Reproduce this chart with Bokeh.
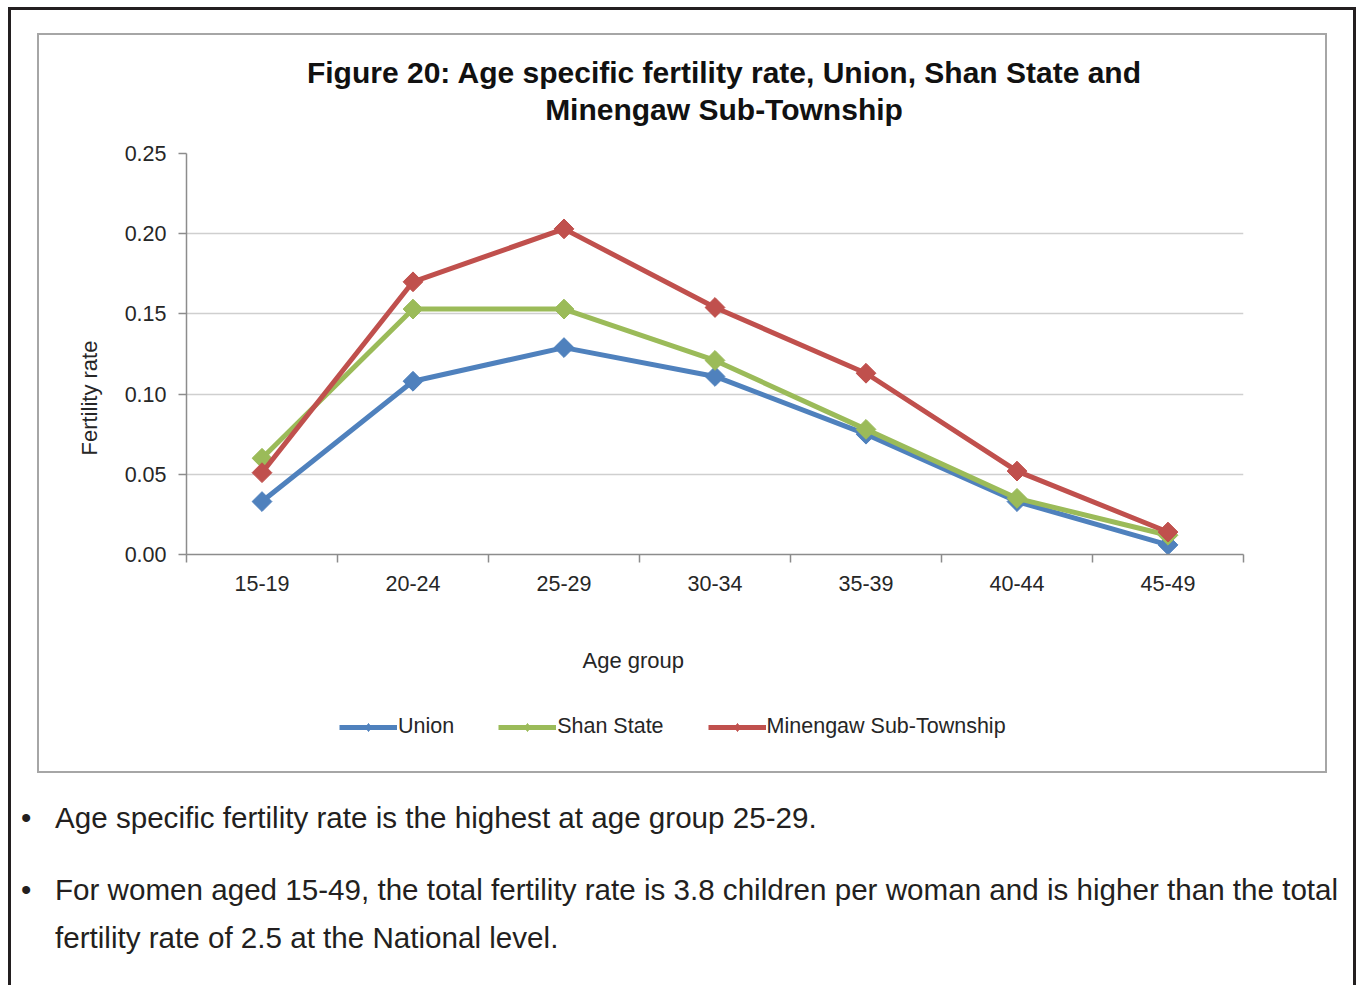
import numpy as np
from bokeh.plotting import figure
from bokeh.models import (FactorRange, Range1d, LinearAxis, CategoricalAxis, FixedTicker,
                          Title, Label, Legend, LegendItem, Div, PrintfTickFormatter)
from bokeh.layouts import column
from bokeh.embed import file_html
from bokeh.resources import INLINE

# ---------------- data ----------------
ages = ["15-19", "20-24", "25-29", "30-34", "35-39", "40-44", "45-49"]
union = [0.033, 0.108, 0.129, 0.111, 0.075, 0.033, 0.006]
shan = [0.060, 0.153, 0.153, 0.121, 0.078, 0.035, 0.012]
minengaw = [0.051, 0.170, 0.203, 0.154, 0.113, 0.052, 0.014]
series_names = ["Union", "Shan State", "Minengaw Sub-Township"]
y_ticks = [0.0, 0.05, 0.10, 0.15, 0.20, 0.25]

title_lines = ["Figure 20: Age specific fertility rate, Union, Shan State and",
               "Minengaw Sub-Township"]
y_title = "Fertility rate"
x_title = "Age group"
bullet1 = "Age specific fertility rate is the highest at age group 25-29."
bullet2a = "For women aged 15-49, the total fertility rate is 3.8 children per woman and is higher than the total"
bullet2b = "fertility rate of 2.5 at the National level."

# ---------------- style ----------------
FONT = "Liberation Sans"
TXT = "#262626"
AXIS = "#8c8c8c"
GRID = "#cfcfcf"
BOX = "2px solid #a6a6a6"
COLORS = ["#4f81bd", "#9bbb59", "#c0504d"]
FS = "21.5px"

# ---- chart title (top part of the grey chart box) ----
title_html = ("<div style=\"font-family:'Liberation Sans',Arial,sans-serif;font-weight:bold;"
              "font-size:30px;line-height:37px;color:#111111;text-align:center;white-space:nowrap;"
              "width:1286px;box-sizing:border-box;"
              f"padding:19px 0 0 84px;\">{title_lines[0]}<br>{title_lines[1]}</div>")
title_div = Div(text=title_html, width=1290, height=105, margin=0,
                styles={"border-top": BOX, "border-left": BOX, "border-right": BOX})

# ---- main plot ----
p = figure(width=1290, height=466, x_range=FactorRange(factors=ages), y_range=Range1d(0, 0.25),
           x_axis_location=None, output_backend="svg", toolbar_location=None,
           min_border_left=147, min_border_right=86, min_border_top=15, min_border_bottom=50)
p.outline_line_color = None
p.background_fill_color = "white"
p.border_fill_color = "white"

# tick-only axis at category boundaries (synthetic coordinates of the factor range)
tick_axis = LinearAxis(ticker=FixedTicker(ticks=list(range(len(ages) + 1))),
                       major_tick_out=8, major_tick_in=0, minor_tick_line_color=None,
                       major_label_text_font_size="0px", major_label_standoff=0,
                       axis_line_color=AXIS, axis_line_width=1.5,
                       major_tick_line_color=AXIS, major_tick_line_width=1.5)
p.add_layout(tick_axis, "below")
cat_axis = CategoricalAxis(axis_line_color=None, major_tick_line_color=None, major_tick_out=0,
                           major_tick_in=0, major_label_standoff=13, major_label_text_font=FONT,
                           major_label_text_font_size=FS, major_label_text_color=TXT)
p.add_layout(cat_axis, "below")

yax = p.yaxis[0]
yax.ticker = FixedTicker(ticks=y_ticks)
yax.formatter = PrintfTickFormatter(format="%.2f")
yax.major_tick_out = 8
yax.major_tick_in = 0
yax.minor_tick_line_color = None
yax.axis_line_color = AXIS
yax.axis_line_width = 1.5
yax.major_tick_line_color = AXIS
yax.major_tick_line_width = 1.5
yax.major_label_standoff = 12
yax.major_label_text_font = FONT
yax.major_label_text_font_size = FS
yax.major_label_text_color = TXT

p.add_layout(Title(text=y_title, align="left", offset=99, vertical_align="middle", standoff=38,
                   text_font=FONT, text_font_size="22px", text_font_style="normal",
                   text_color=TXT), "left")

p.xgrid.visible = False
p.ygrid.ticker = FixedTicker(ticks=y_ticks)
p.ygrid.grid_line_color = GRID
p.ygrid.grid_line_width = 1.5

for vals, col in zip([union, shan, minengaw], COLORS):
    p.line(ages, vals, line_width=5, color=col)
    p.scatter(ages, vals, marker="square", size=14, angle=np.pi / 4, color=col)

p.styles = {"border-left": BOX, "border-right": BOX}

# ---- footer of the chart box: x-axis title and legend ----
# (series drawn here only to feed the legend; the y range keeps them out of view)
f = figure(width=1290, height=169, x_range=FactorRange(factors=ages), y_range=Range1d(1, 2),
           x_axis_location=None, y_axis_location=None, output_backend="svg",
           toolbar_location=None, min_border=0)
f.grid.visible = False
f.outline_line_color = None
f.background_fill_color = "white"
f.border_fill_color = "white"

f.add_layout(Label(x=396, y=113, x_units="screen", y_units="screen", text=x_title,
                   text_align="left", text_baseline="middle", text_font=FONT,
                   text_font_size="22px", text_color=TXT))

items = []
for name, vals, col in zip(series_names, [union, shan, minengaw], COLORS):
    rl = f.line(ages, vals, line_width=5, color=col)
    rs = f.scatter(ages, vals, marker="diamond", size=14, color=col)
    items.append(LegendItem(label=name, renderers=[rl, rs]))

legend = Legend(items=items, location=(153, 34), orientation="horizontal", spacing=44,
                glyph_width=58, glyph_height=20, label_standoff=1, padding=0, margin=0,
                border_line_color=None, background_fill_alpha=0, label_text_font=FONT,
                label_text_font_size=FS, label_text_color=TXT, label_height=20)
f.add_layout(legend, "center")
f.styles = {"border-left": BOX, "border-right": BOX, "border-bottom": BOX}

chart_box = column(title_div, p, f, margin=(23, 0, 0, 26))

html = f"""<div style="font-family:'Liberation Sans',Arial,sans-serif;font-size:29.6px;color:#231f20;line-height:48px;white-space:nowrap;padding-top:21px;">
<div style="position:relative;padding-left:44px;"><span style="position:absolute;left:10px;">&bull;</span>{bullet1}</div>
<div style="position:relative;padding-left:44px;margin-top:24px;"><span style="position:absolute;left:10px;">&bull;</span>{bullet2a}<br>{bullet2b}</div>
</div>"""
text_div = Div(text=html, width=1342, height=212, margin=0)

root = column(chart_box, text_div, margin=(7, 0, 0, 8),
              styles={"border-top": "3px solid #231f20", "border-left": "3px solid #231f20",
                      "border-right": "3px solid #231f20"})

open("out.html", "w").write(file_html(root, INLINE))
